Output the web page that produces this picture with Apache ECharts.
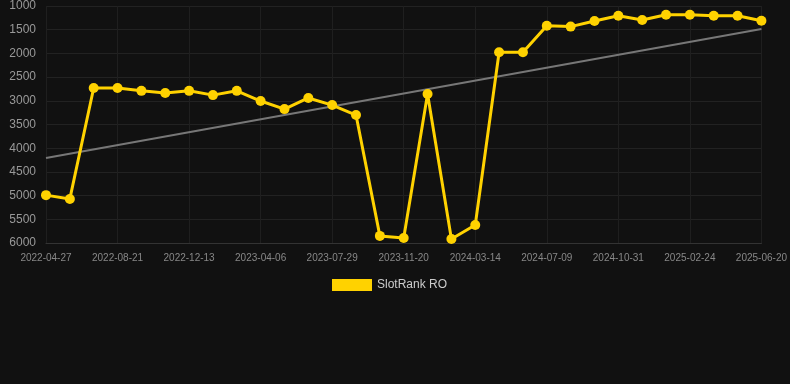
<!DOCTYPE html>
<html><head><meta charset="utf-8">
<script src="https://cdn.jsdelivr.net/npm/echarts@6/dist/echarts.min.js"></script>
<style>html,body{margin:0;padding:0;background:#111111;}#c{width:790px;height:384px;}</style>
</head><body><div id="c"></div>
<script>
const categories = ["2022-04-27","2022-06-04","2022-07-14","2022-08-21","2022-09-28","2022-11-05","2022-12-13","2023-01-20","2023-02-27","2023-04-06","2023-05-14","2023-06-21","2023-07-29","2023-09-05","2023-10-13","2023-11-20","2023-12-28","2024-02-04","2024-03-14","2024-04-21","2024-05-31","2024-07-09","2024-08-16","2024-09-23","2024-10-31","2024-12-08","2025-01-16","2025-02-24","2025-04-02","2025-05-11","2025-06-20"];
const rankValues = [4990,5070,2730,2730,2790,2835,2790,2880,2790,3005,3175,2940,3090,3300,5850,5895,2855,5915,5620,1977,1977,1415,1435,1316,1205,1295,1183,1183,1205,1205,1310];
const trendEnds = [4207,1485];
const yTicks = {min:1000,max:6000,interval:500};
const seriesName = "SlotRank RO";

const chart = echarts.init(document.getElementById('c'));
chart.setOption({
  backgroundColor:'#111111',
  animation:false,
  grid:{left:46,right:28,top:6,bottom:141},
  legend:{data:[seriesName],top:274,left:327,itemWidth:40,itemHeight:12,icon:'rect',
    textStyle:{color:'#cccccc',fontSize:12,fontFamily:'Arial, Liberation Sans, sans-serif'}},
  xAxis:{type:'category',data:categories,boundaryGap:false,
    axisLine:{lineStyle:{color:'#333333'}},
    axisTick:{show:false},
    axisLabel:{interval:2,color:'#888888',fontSize:10,margin:10,fontFamily:'Arial, Liberation Sans, sans-serif'},
    splitLine:{show:true,interval:2,lineStyle:{color:'#1f1f1f'}}},
  yAxis:{type:'value',inverse:true,min:yTicks.min,max:yTicks.max,interval:yTicks.interval,
    axisLine:{show:false},axisTick:{show:false},
    axisLabel:{color:'#999999',fontSize:12,margin:10,formatter:v=>String(v),fontFamily:'Arial, Liberation Sans, sans-serif'},
    splitLine:{lineStyle:{color:'#222222'}}},
  series:[
    {name:'trend',type:'line',data:[[categories[0],trendEnds[0]],[categories[categories.length-1],trendEnds[1]]],
      symbol:'none',lineStyle:{color:'#777777',width:2},z:1,silent:true},
    {name:seriesName,type:'line',data:rankValues,symbol:'circle',symbolSize:10,
      itemStyle:{color:'#ffd200'},lineStyle:{color:'#ffd200',width:3},z:2}
  ]
});
</script></body></html>
